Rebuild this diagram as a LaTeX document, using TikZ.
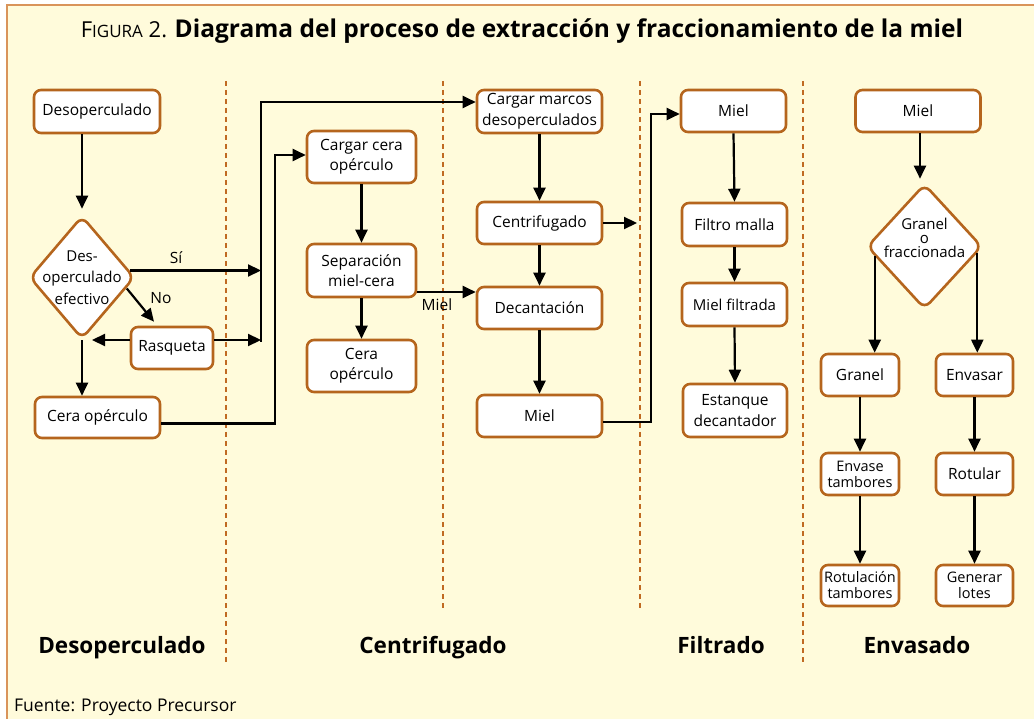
\documentclass[tikz,border=0pt]{standalone}
\usepackage{fontspec}
\setmainfont{Open Sans}
\usetikzlibrary{shapes.geometric,arrows.meta,calc}
\definecolor{bgc}{HTML}{FFFBDB}
\definecolor{framec}{HTML}{D9945A}
\definecolor{boxc}{HTML}{B5651D}
\definecolor{dotc}{HTML}{C06A22}
\begin{document}
\begin{tikzpicture}[x=1pt,y=-1pt,
 box/.style={draw=boxc, line width=2.6pt, fill=white, rounded corners=7pt, inner sep=0pt, align=center, font=\fontsize{15.5}{20.5}\selectfont},
 tight/.style={font=\fontsize{14.5}{16}\selectfont},
 decn/.style={draw=boxc, line width=2.6pt, fill=white, shape=diamond, rounded corners=8pt, inner sep=0pt},
 dtext/.style={align=center, inner sep=0pt},
 arr/.style={line width=2.2pt, -{Triangle[length=13pt,width=12pt]}},
 lbl/.style={font=\fontsize{15.5}{18}\selectfont, inner sep=0pt},
 sepline/.style={draw=dotc, line width=2.6pt, dash pattern=on 5pt off 4pt},
 sect/.style={font=\bfseries\fontsize{22.5}{25}\selectfont, anchor=base, inner sep=0pt},
]
\useasboundingbox (0,0) rectangle (1034,719);
\fill[white] (0,0) rectangle (1034,719);
\fill[bgc] (7,5) rectangle (1034,719);
\draw[framec, line width=1.6pt] (7,719) -- (7,5) -- (1034,5);

% title
\node[anchor=base, inner sep=0pt] (title) at (522,38) {\fontsize{22}{24}\selectfont F\fontsize{17}{24}\selectfont IGURA\fontsize{22}{24}\selectfont{} 2. \bfseries\fontsize{24.5}{26}\selectfont Diagrama del proceso de extracción y fraccionamiento de la miel};

% separators
\draw[sepline] (226,81) -- (226,662);
\draw[sepline] (443,81) -- (443,608);
\draw[sepline] (640,81) -- (640,608);
\draw[sepline] (803,81) -- (803,662);

% Desoperculado column
\node[box, minimum width=126pt, minimum height=43pt] (d1) at (97,111.5) {Desoperculado};
\node[decn, minimum width=105pt, minimum height=123pt] (dia) at (82,277.5) {};
\node[dtext, font=\fontsize{15}{21.5}\selectfont] (diat) at (82,277.5) {Des-\\operculado\\efectivo};
\node[box, minimum width=82pt, minimum height=42pt] (rasq) at (172,348) {Rasqueta};
\node[box, minimum width=125pt, minimum height=41pt] (cera) at (97.5,417.5) {Cera opérculo};

% Centrifugado column
\node[box, minimum width=109pt, minimum height=52pt] (cc) at (361.5,157) {Cargar cera\\opérculo};
\node[box, minimum width=109pt, minimum height=53pt] (sepn) at (361.5,270.5) {Separación\\miel-cera};
\node[box, minimum width=109pt, minimum height=52pt] (cera2) at (361.5,366) {Cera\\opérculo};
\node[box, minimum width=125pt, minimum height=43pt] (cm) at (539.5,111.5) {Cargar marcos\\desoperculados};
\node[box, minimum width=125pt, minimum height=42pt] (cen) at (539.5,223) {Centrifugado};
\node[box, minimum width=125pt, minimum height=42pt] (dcn) at (539.5,308) {Decantación};
\node[box, minimum width=125pt, minimum height=42pt] (mc) at (539.5,416) {Miel};

% Filtrado column
\node[box, minimum width=105pt, minimum height=42pt] (mf) at (733.5,111) {Miel};
\node[box, minimum width=105pt, minimum height=43pt] (fm) at (734.5,224.5) {Filtro malla};
\node[box, minimum width=105pt, minimum height=43pt, font=\fontsize{15}{18}\selectfont] (mfi) at (734.5,304.5) {Miel filtrada};
\node[box, minimum width=104pt, minimum height=53pt] (est) at (735,410.5) {Estanque\\decantador};

% Envasado column
\node[box, minimum width=125pt, minimum height=42pt] (me) at (918,111) {Miel};
\node[decn, minimum width=115pt, minimum height=125pt] (dia2) at (924.5,246.5) {};
\node[dtext, font=\fontsize{15}{14}\selectfont] (dia2t) at (924.5,238) {Granel\\o\\fraccionada};
\node[box, minimum width=78pt, minimum height=42pt] (gran) at (860,375) {Granel};
\node[box, minimum width=77pt, minimum height=42pt] (envs) at (974.5,375) {Envasar};
\node[box, tight, minimum width=78pt, minimum height=42pt] (envt) at (860,474) {Envase\\tambores};
\node[box, minimum width=77pt, minimum height=42pt] (rot) at (974.5,474) {Rotular};
\node[box, tight, minimum width=78pt, minimum height=41pt] (rott) at (860,585.5) {Rotulación\\tambores};
\node[box, tight, minimum width=77pt, minimum height=41pt] (gen) at (974.5,585.5) {Generar\\lotes};

% helper coordinates
\coordinate (jA) at (261,102);
\coordinate (jB) at (261,342);
\coordinate (s1) at ($(dia.east)+(-6,-7)$);
\coordinate (n1) at ($(dia.east)+(-9,11)$);
\coordinate (n2) at ($(rasq.north)+(-18,-4)$);
\coordinate (r1) at ($(rasq.west)+(0,-8)$);
\coordinate (r2) at ($(rasq.east)+(0,-8)$);
\coordinate (dsr) at ($(dia.south)+(10,0)$);
\coordinate (c1) at ($(cera.east)+(0,6)$);
\coordinate (jC) at (275,155);
\coordinate (m1) at ($(sepn.east)+(0,21.5)$);
\coordinate (cx) at (637,223);
\coordinate (m2) at ($(mc.east)+(0,6)$);
\coordinate (jD) at (651,114);
\coordinate (t1) at ($(dia.north)+(0,-6)$);
\coordinate (t2) at ($(dia2.north)+(-4.5,-4)$);
\coordinate (e1) at ($(dia2.west)+(9,10)$);
\coordinate (e2) at ($(dia2.east)+(-6,7)$);

% connectors: Desoperculado
\draw[arr] (d1.south -| dia.north) -- (t1);
\draw[arr] (dia.south) -- (dia.south |- cera.north);
\draw[arr] (s1) -- (s1 -| jB);
\draw[arr] (n1) -- (n2);
\draw[arr] (r1) -- (r1 -| dsr);
\draw[arr] (r2) -- (r2 -| jB);
\draw[arr] (jB) -- (jA) -- (jA -| cm.west);
\draw[arr] (c1) -| (jC) -- (jC -| cc.west);
\node[lbl] (lsi) at (176,258) {Sí};
\node[lbl] (lno) at (161,298) {No};

% Centrifugado
\draw[arr] (cc.south) -- (sepn.north);
\draw[arr] (sepn.south) -- (cera2.north);
\draw[arr] (m1) -- (m1 -| dcn.west);
\node[lbl] (lmiel) at (437,305) {Miel};
\draw[arr] (cm.south) -- (cen.north);
\draw[arr] (cen.south) -- (dcn.north);
\draw[arr] (dcn.south) -- (mc.north);
\draw[arr] (cen.east) -- (cx);
\draw[arr] (m2) -| (jD) -- (jD -| mf.west);

% Filtrado
\draw[arr] (mf.south) -- (fm.north);
\draw[arr] (fm.south) -- (mfi.north);
\draw[arr] (mfi.south) -- (est.north);

% Envasado
\draw[arr] (me.south -| t2) -- (t2);
\draw[arr] (e1) -- (e1 |- gran.north);
\draw[arr] (e2) -- (e2 |- envs.north);
\draw[arr] (gran.south) -- (envt.north);
\draw[arr] (envt.south) -- (rott.north);
\draw[arr] (envs.south) -- (rot.north);
\draw[arr] (rot.south) -- (gen.north);

% section labels
\node[sect] (s-des) at (122,653) {Desoperculado};
\node[sect] (s-cen) at (433,653) {Centrifugado};
\node[sect] (s-fil) at (721,653) {Filtrado};
\node[sect] (s-env) at (917,653) {Envasado};

\node[anchor=base west, inner sep=0pt, font=\fontsize{17.5}{19}\selectfont] (src) at (14,711) {Fuente: Proyecto Precursor};
\end{tikzpicture}
\end{document}
